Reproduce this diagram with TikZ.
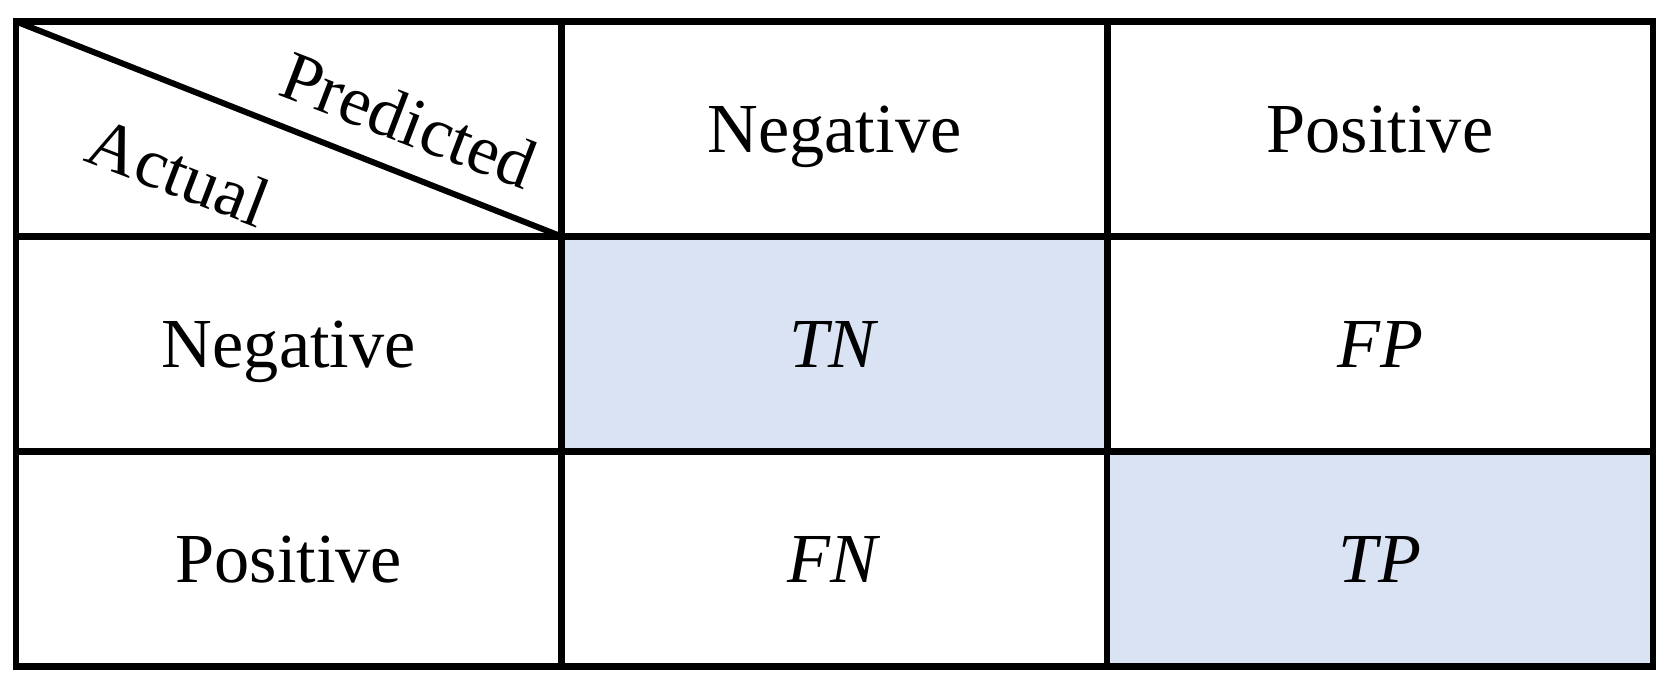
\documentclass[tikz,border=0pt]{standalone}
\usepackage{fontspec}
\setmainfont{Liberation Serif}
\definecolor{cellblue}{RGB}{218,227,243}

\begin{document}
\begin{tikzpicture}[
  cell/.style={draw, rectangle, line width=0.13cm, outer sep=0pt, inner sep=0pt, minimum width=10.913cm, minimum height=4.3cm, text depth=0pt, font=\fontsize{40}{48}\selectfont},
  hit/.style={cell, fill=cellblue},
  axis/.style={font=\fontsize{40}{48}\selectfont, rotate=-21}
]
\useasboundingbox (0,0) rectangle (33.42,-13.64);

\node[cell] (corner) at (5.7765,-2.58) {};
\node[cell] (predneg) at (16.69,-2.58) {Negative};
\node[cell] (predpos) at (27.60,-2.58) {Positive};

\node[cell] (actneg) at (5.7765,-6.88) {Negative};
\node[hit] (tn) at (16.69,-6.88) {\textit{TN}};
\node[cell] (fp) at (27.60,-6.88) {\textit{FP}};

\node[cell] (actpos) at (5.7765,-11.18) {Positive};
\node[cell] (fn) at (16.69,-11.18) {\textit{FN}};
\node[hit] (tp) at (27.60,-11.18) {\textit{TP}};

\draw[line width=0.12cm] (corner.north west) -- (corner.south east);
\node[axis] (pred) at (8.18,-2.40) {Predicted};
\node[axis] (act) at (3.58,-3.44) {Actual};
\end{tikzpicture}
\end{document}
